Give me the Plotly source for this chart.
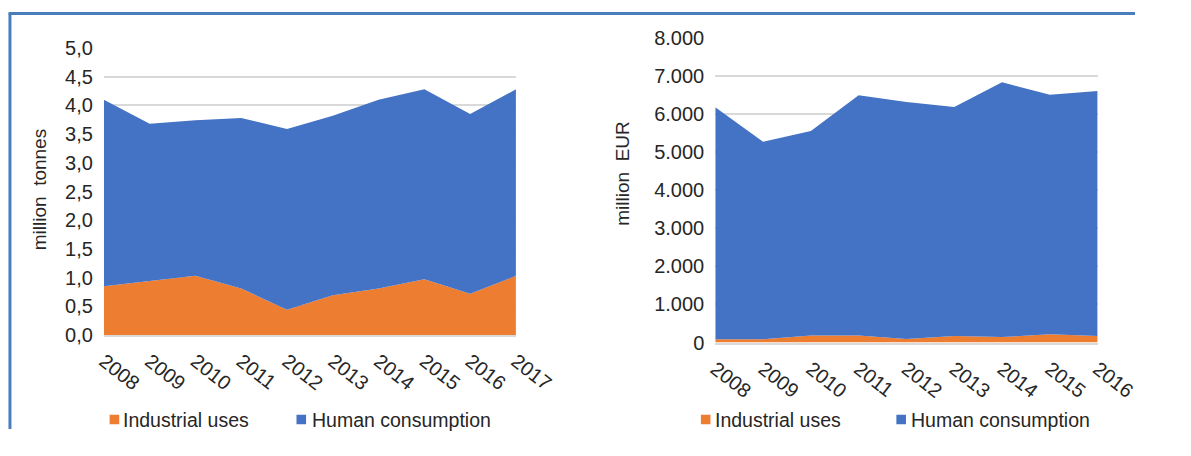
import plotly.graph_objects as go

# The page is shown with the browser's default 8px body margin,
# so the figure is sized to fit inside it.
OFF = 8
W, H = 1191 - 2 * OFF, 456 - 2 * OFF

# ---- data ----
years_t = [2008, 2009, 2010, 2011, 2012, 2013, 2014, 2015, 2016, 2017]
industrial_t = [0.85, 0.94, 1.03, 0.81, 0.44, 0.69, 0.81, 0.97, 0.72, 1.03]
human_t = [3.25, 2.74, 2.71, 2.97, 3.15, 3.13, 3.29, 3.31, 3.13, 3.25]

years_e = [2008, 2009, 2010, 2011, 2012, 2013, 2014, 2015, 2016]
industrial_e = [85, 85, 185, 185, 95, 175, 145, 215, 175]
human_e = [6085, 5185, 5365, 6305, 6215, 6005, 6685, 6285, 6425]

series_names = ["Industrial uses", "Human consumption"]
ytitle_left = "million&nbsp;&nbsp;tonnes"
ytitle_right = "million&nbsp;&nbsp;EUR"

ORANGE = "#ED7D31"
BLUE = "#4472C4"
GRID = "#D9D9D9"
TEXT = "#262626"
FONT = "Liberation Sans, Arial, sans-serif"
FS = 20


def px(x):
    return (x - OFF) / W


def py(y):
    return 1 - (y - OFF) / H


fig = go.Figure()

for xs, ind, hum, xa, ya, grp in [
    (years_t, industrial_t, human_t, "x", "y", "t"),
    (years_e, industrial_e, human_e, "x2", "y2", "e"),
]:
    fig.add_trace(go.Scatter(x=xs, y=ind, name=series_names[0], stackgroup=grp, mode="lines",
                             line=dict(width=0, color=ORANGE), fillcolor=ORANGE,
                             xaxis=xa, yaxis=ya, showlegend=False, hoverinfo="x+y"))
    fig.add_trace(go.Scatter(x=xs, y=hum, name=series_names[1], stackgroup=grp, mode="lines",
                             line=dict(width=0, color=BLUE), fillcolor=BLUE,
                             xaxis=xa, yaxis=ya, showlegend=False, hoverinfo="x+y"))

tickfont = dict(family=FONT, size=FS, color=TEXT)

xcommon = dict(showgrid=False, zeroline=False, showline=True, linecolor=GRID, linewidth=2,
               tickangle=38, tickfont=tickfont, ticks="", ticklabelstandoff=5, fixedrange=True)
ycommon = dict(showgrid=True, gridcolor=GRID, gridwidth=1.5, zeroline=False, showline=False,
               tickfont=tickfont, ticks="", fixedrange=True)

fig.update_layout(
    width=W, height=H,
    margin=dict(l=0, r=0, t=0, b=0),
    paper_bgcolor="white", plot_bgcolor="white",
    separators=",.",
    showlegend=False,
    xaxis=dict(domain=[px(107), px(537)], anchor="y", range=[years_t[0], years_t[-1]],
               tickvals=years_t, ticktext=[str(y) for y in years_t], **xcommon),
    yaxis=dict(domain=[py(349), py(47)], anchor="x", range=[0, 5], dtick=0.5, tickformat=".1f",
               ticklabelstandoff=10, **ycommon),
    xaxis2=dict(domain=[px(745), px(1144)], anchor="y2", range=[years_e[0], years_e[-1]],
                tickvals=years_e, ticktext=[str(y) for y in years_e], **xcommon),
    yaxis2=dict(domain=[py(357), py(36)], anchor="x2", range=[0, 8000], dtick=1000, tickformat=",d",
                ticklabelstandoff=10, **ycommon),
)

# axis titles
for tx, ty, txt in [(40, 196, ytitle_left), (648, 179, ytitle_right)]:
    fig.add_annotation(xref="paper", yref="paper", x=px(tx), y=py(ty), text=txt, textangle=-90,
                       showarrow=False, xanchor="center", yanchor="middle",
                       font=dict(family=FONT, size=19, color=TEXT))

# frame lines (top and left)
fig.add_shape(type="line", xref="paper", yref="paper", x0=px(7.5), x1=1, y0=py(10.5), y1=py(10.5),
              line=dict(color="#4A7EBB", width=3))
fig.add_shape(type="line", xref="paper", yref="paper", x0=px(9), x1=px(9), y0=py(10.5), y1=0,
              line=dict(color="#4A7EBB", width=3))

# legends (square swatch + text)
legend_items = [
    (113, 125, series_names[0], ORANGE),
    (308, 322, series_names[1], BLUE),
    (730, 743, series_names[0], ORANGE),
    (934, 947, series_names[1], BLUE),
]
for sq_x, tx, name, col in legend_items:
    fig.add_shape(type="rect", xref="paper", yref="paper",
                  x0=px(sq_x), x1=px(sq_x + 10), y0=py(443), y1=py(433),
                  fillcolor=col, line=dict(width=0))
    fig.add_annotation(xref="paper", yref="paper", x=px(tx), y=py(439), text=name,
                       showarrow=False, xanchor="left", yanchor="middle",
                       font=dict(family=FONT, size=19.5, color=TEXT))

fig.write_html("out.html")
